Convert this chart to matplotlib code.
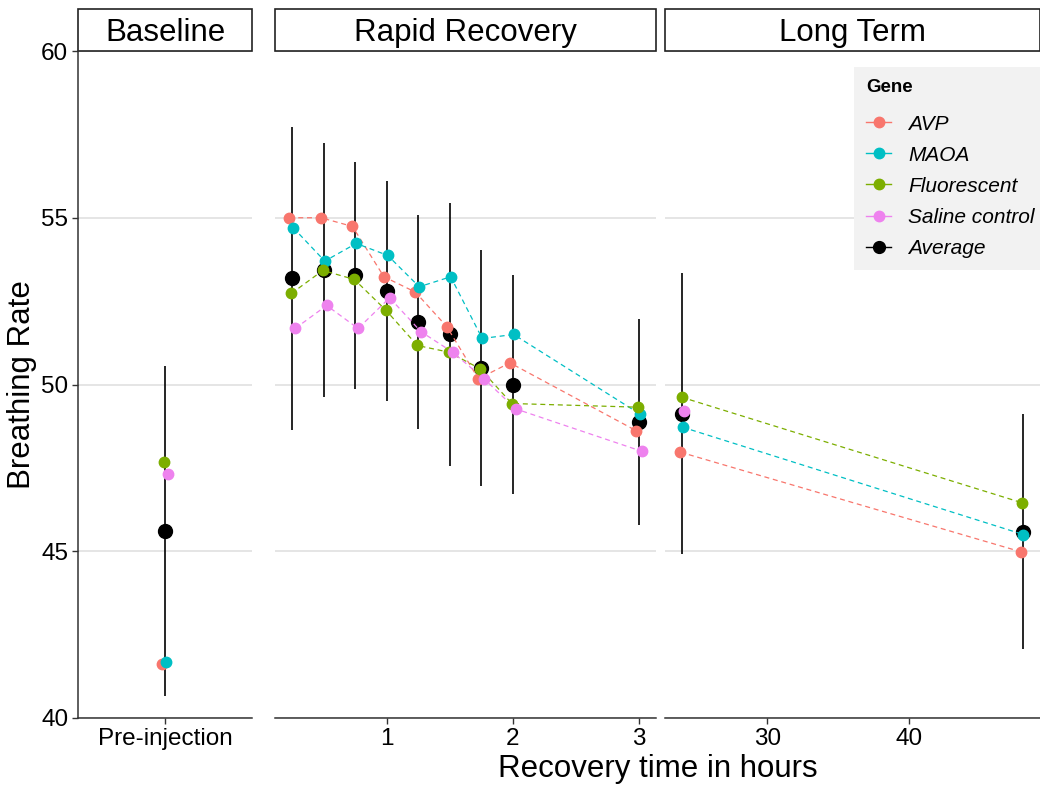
import numpy as np
import matplotlib
matplotlib.use('Agg')
import matplotlib.pyplot as plt
from matplotlib.lines import Line2D
from matplotlib.patches import Rectangle

plt.rcParams['font.family'] = ['Liberation Sans', 'DejaVu Sans']

# Data

genes = ['AVP', 'MAOA', 'Fluorescent', 'Saline control']
gene_colors = ['#F8766D', '#00BFC4', '#7CAE00', '#EE82EE']
dodge_order = [0, 2, 1, 3]  # AVP, Fluorescent, MAOA, Saline (left to right)

# Baseline (pre-injection)
base_label = ['Pre-injection']
base_genes = [41.62, 41.67, 47.68, 47.32]
base_avg = 45.60
base_err = 4.94

# Rapid recovery (hours)
rapid_t = [0.25, 0.5, 0.75, 1.0, 1.25, 1.5, 1.75, 2.0, 3.0]
rapid_genes = [
    [55.00, 55.00, 54.74, 53.23, 52.77, 51.73, 50.17, 50.65, 48.62],  # AVP
    [54.70, 53.70, 54.23, 53.87, 52.93, 53.23, 51.38, 51.50, 49.12],  # MAOA
    [52.73, 53.42, 53.15, 52.23, 51.17, 50.97, 50.47, 49.43, 49.32],  # Fluorescent
    [51.68, 52.37, 51.68, 52.60, 51.58, 50.97, 50.17, 49.27, 48.00],  # Saline
]
rapid_avg = [53.18, 53.43, 53.28, 52.80, 51.88, 51.50, 50.50, 50.00, 48.87]
rapid_err = [4.53, 3.80, 3.40, 3.30, 3.20, 3.93, 3.54, 3.29, 3.09]

# Long term (hours)
long_t = [24, 48]
long_genes = [
    [47.97, 44.98],
    [48.72, 45.50],
    [49.62, 46.45],
    [49.20, np.nan],
]
long_avg = [49.12, 45.59]
long_err = [4.21, 3.53]

# Layout

W, H = 1040, 786
fig = plt.figure(figsize=(W / 100, H / 100), dpi=100)

bottom = 1 - 718 / H
height = (718 - 51) / H
ax_base = fig.add_axes([78 / W, bottom, 174 / W, height])
ax_rapid = fig.add_axes([275 / W, bottom, 381 / W, height])
ax_long = fig.add_axes([665 / W, bottom, 375 / W, height])

axis_col = '#333333'
strip_h = 42 / (718 - 51)

for ax, title in [(ax_base, 'Baseline'), (ax_rapid, 'Rapid Recovery'), (ax_long, 'Long Term')]:
    ax.set_ylim(40, 60)
    ax.set_yticks([40, 45, 50, 55, 60])
    ax.yaxis.grid(True, color='#DEDEDE', lw=1.1)
    ax.set_axisbelow(True)
    for s in ['top', 'right', 'left']:
        ax.spines[s].set_visible(False)
    ax.spines['bottom'].set_color(axis_col)
    ax.spines['bottom'].set_linewidth(1.1)
    ax.tick_params(axis='x', length=4, width=1, color=axis_col, labelsize=17.5, pad=3, labelcolor='black')
    ax.tick_params(axis='y', left=False, labelleft=False)
    ax.add_patch(Rectangle((0, 1), 1, strip_h, transform=ax.transAxes, clip_on=False,
                           facecolor='white', edgecolor='#222222', lw=1.2))
    ax.text(0.5, 1 + strip_h / 2 - 0.005, title, transform=ax.transAxes, ha='center', va='center',
            fontsize=22.5)

ax_base.spines['left'].set_visible(True)
ax_base.spines['left'].set_color(axis_col)
ax_base.spines['left'].set_linewidth(1.1)
ax_base.tick_params(axis='y', left=True, labelleft=True, length=4, width=1, color=axis_col,
                    labelsize=17.5, pad=3)

dodge = 0.015


def offs(i):
    return (dodge_order[i] - 1.5) * dodge


# Baseline panel
ax_base.set_xlim(0.4, 1.6)
bx = np.arange(1, len(base_label) + 1)
ax_base.set_xticks(bx)
ax_base.set_xticklabels(base_label)
ax_base.errorbar(bx, [base_avg], yerr=[base_err], fmt='none', ecolor='black', elinewidth=1.2, capsize=0, zorder=2)
ax_base.plot(bx, [base_avg], 'o', color='black', ms=10, zorder=3)
for i, g in enumerate(genes):
    ax_base.plot(bx + offs(i), [base_genes[i]], 'o', color=gene_colors[i], ms=7.5, zorder=4)

# Rapid recovery panel
ax_rapid.set_xlim(0.1125, 3.1375)
ax_rapid.set_xticks([1, 2, 3])
ax_rapid.errorbar(rapid_t, rapid_avg, yerr=rapid_err, fmt='none', ecolor='black', elinewidth=1.2, capsize=0, zorder=2)
ax_rapid.plot(rapid_t, rapid_avg, 'o', color='black', ms=10, lw=0, zorder=3)
for i, g in enumerate(genes):
    x = np.array(rapid_t) + offs(i)
    ax_rapid.plot(x, rapid_genes[i], color=gene_colors[i], lw=0.9, ls=(0, (4, 3)), zorder=4)
    ax_rapid.plot(x, rapid_genes[i], 'o', color=gene_colors[i], ms=7.5, lw=0, zorder=5)

# Long term panel
ax_long.set_xlim(22.8, 49.2)
ax_long.set_xticks([30, 40])
ax_long.errorbar(long_t, long_avg, yerr=long_err, fmt='none', ecolor='black', elinewidth=1.2, capsize=0, zorder=2)
ax_long.plot(long_t, long_avg, 'o', color='black', ms=10, lw=0, zorder=3)
for i, g in enumerate(genes):
    x = np.array(long_t) + offs(i) * 5
    ax_long.plot(x, long_genes[i], color=gene_colors[i], lw=0.9, ls=(0, (4, 3)), zorder=4)
    ax_long.plot(x, long_genes[i], 'o', color=gene_colors[i], ms=7.5, lw=0, zorder=5)

# Axis titles
fig.text(22 / W, 1 - 384.5 / H, 'Breathing Rate', rotation=90, ha='center', va='center', fontsize=22.5)
fig.text(657.5 / W, 1 - 769 / H, 'Recovery time in hours', ha='center', va='center', fontsize=22.5)

# Legend
handles = [Line2D([], [], color=c, marker='o', ms=7.5, lw=1) for c in gene_colors]
handles.append(Line2D([], [], color='black', marker='o', ms=8.5, lw=1))
leg = fig.legend(handles, genes + ['Average'], loc='upper right', bbox_to_anchor=(1.0 + 7 / W, 1 - 67 / H),
                 title='Gene', title_fontproperties={'weight': 'bold', 'size': 13.5},
                 prop={'style': 'italic', 'size': 15}, frameon=True, fancybox=False,
                 facecolor='#F2F2F2', edgecolor='none', framealpha=1, alignment='left',
                 handlelength=1.2, handletextpad=0.8, labelspacing=0.58, borderpad=0.6,
                 borderaxespad=0)
leg._legend_box.sep = 13

fig.savefig('out.png', dpi=100)
